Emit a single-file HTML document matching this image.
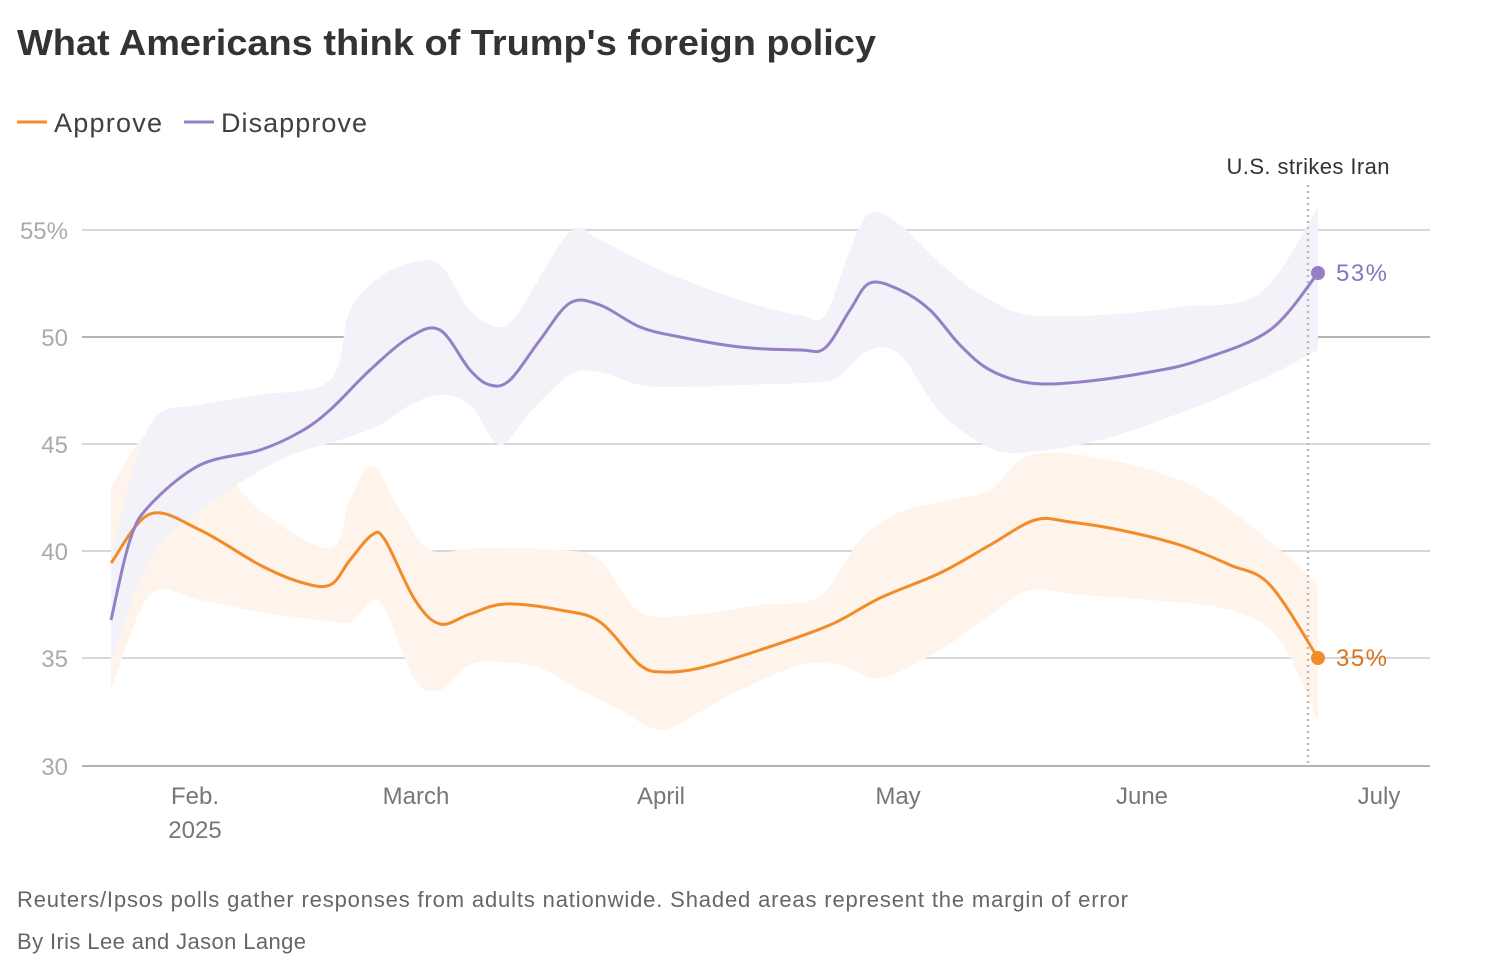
<!DOCTYPE html>
<html><head><meta charset="utf-8"><style>
body{margin:0;background:#fff;font-family:"Liberation Sans",sans-serif;}
svg{display:block}
</style></head><body>
<svg id="s" width="1486" height="970" xmlns="http://www.w3.org/2000/svg" font-family="Liberation Sans, sans-serif">
<text x="17" y="55" font-size="36" font-weight="bold" fill="#333" textLength="859" lengthAdjust="spacingAndGlyphs">What Americans think of Trump's foreign policy</text>
<line x1="17" y1="122" x2="47" y2="122" stroke="#f28c28" stroke-width="3"/>
<text x="54" y="132" font-size="27" fill="#404040" textLength="108">Approve</text>
<line x1="184" y1="122" x2="214" y2="122" stroke="#9580c5" stroke-width="3"/>
<text x="221" y="132" font-size="27" fill="#404040" textLength="146">Disapprove</text>
<g stroke="#ccc" stroke-width="1.5">
<line x1="82" y1="230" x2="1430" y2="230"/><line x1="82" y1="337" x2="1430" y2="337" stroke="#999"/>
<line x1="82" y1="444" x2="1430" y2="444"/><line x1="82" y1="551" x2="1430" y2="551"/>
<line x1="82" y1="658" x2="1430" y2="658"/><line x1="82" y1="766" x2="1430" y2="766" stroke="#999"/>
</g>
<g font-size="24" fill="#aaa" text-anchor="end">
<text x="68" y="239">55%</text><text x="68" y="346">50</text><text x="68" y="453">45</text>
<text x="68" y="560">40</text><text x="68" y="667">35</text><text x="68" y="775">30</text>
</g>
<g font-size="24" fill="#777" text-anchor="middle">
<text x="195" y="804">Feb.</text><text x="195" y="838">2025</text><text x="416" y="804">March</text>
<text x="661" y="804">April</text><text x="898" y="804">May</text><text x="1142" y="804">June</text><text x="1379" y="804">July</text>
</g>
<path id="ab" fill="#fef4eb"/>
<path id="db" fill="#f4f2f9"/>
<line x1="1308" y1="185" x2="1308" y2="766" stroke="#bbb" stroke-width="2.5" stroke-dasharray="2,4"/>
<text x="1308" y="174" font-size="22" fill="#333" text-anchor="middle" textLength="163">U.S. strikes Iran</text>
<path id="al" fill="none" stroke="#f28c28" stroke-width="3"/>
<path id="dl" fill="none" stroke="#9580c5" stroke-width="3"/>
<circle cx="1318" cy="658" r="7" fill="#f28c28"/>
<circle cx="1318" cy="273" r="7" fill="#9580c5"/>
<text x="1336" y="666" font-size="24" fill="#d9731a" textLength="51">35%</text>
<text x="1336" y="281" font-size="24" fill="#8a74bd" textLength="51">53%</text>
<text x="17" y="907" font-size="22" fill="#666" textLength="1111">Reuters/Ipsos polls gather responses from adults nationwide. Shaded areas represent the margin of error</text>
<text x="17" y="949" font-size="22" fill="#666" textLength="289">By Iris Lee and Jason Lange</text>
</svg>
<script>
function cr(p,start){let d=start?"M"+p[0]:"L"+p[0];for(let i=0;i<p.length-1;i++){const p0=p[Math.max(i-1,0)],p1=p[i],p2=p[i+1],p3=p[Math.min(i+2,p.length-1)];
const c1=[p1[0]+(p2[0]-p0[0])/6,p1[1]+(p2[1]-p0[1])/6],c2=[p2[0]-(p3[0]-p1[0])/6,p2[1]-(p3[1]-p1[1])/6];d+=" C"+c1+" "+c2+" "+p2;}return d;}
const al=[[111,563],[150,514],[200,530],[260,565],[300,582],[330,585],[350,560],[372,535],[385,540],[415,600],[440,624],[470,614],[505,604],[560,610],[600,622],[640,665],[665,672],[700,668],[760,650],[830,625],[880,598],[940,573],[990,545],[1035,520],[1070,522],[1120,530],[1180,545],[1230,565],[1270,585],[1318,658]];
const au=[[111,487],[150,432],[200,445],[260,510],[330,548],[350,500],[372,466],[400,510],[430,550],[480,548],[560,550],[600,560],[640,612],[700,614],[760,605],[820,596],[860,540],[900,512],[950,500],[990,490],[1030,455],[1100,458],[1180,480],[1230,510],[1280,550],[1318,585]];
const alo=[[1318,722],[1280,640],[1230,610],[1150,600],[1080,595],[1030,590],[990,615],[940,650],[880,678],[840,665],[800,665],[740,690],[700,712],[660,730],[620,710],[580,690],[540,668],[500,662],[470,665],[440,690],[415,680],[380,602],[350,622],[320,620],[260,612],[200,600],[150,595],[111,690]];
const dl=[[111,620],[130,540],[150,505],[200,465],[260,450],[300,432],[330,410],[370,370],[410,337],[440,330],[470,370],[490,385],[510,380],[540,340],[570,303],[600,305],[640,327],[680,337],[740,347],[800,350],[825,348],[850,310],[870,283],[900,290],[930,310],[960,345],[990,370],[1030,383],[1080,382],[1150,372],[1200,360],[1270,330],[1318,273]];
const du=[[111,555],[150,425],[200,405],[260,395],[330,380],[350,310],[380,277],[410,263],[440,265],[470,310],[500,327],[520,310],[570,232],[600,240],[660,270],[740,300],[800,315],[825,315],[850,250],[870,213],[900,225],[950,272],[990,300],[1030,315],[1100,315],[1180,307],[1260,293],[1318,207]];
const dlo=[[1318,350],[1260,380],[1180,413],[1100,440],[1030,452],[990,448],[940,412],[900,355],[870,350],[840,375],[820,382],[740,385],[680,387],[640,385],[600,372],[570,375],[530,412],[500,445],[470,405],[440,395],[410,405],[380,425],[340,440],[280,460],[200,510],[150,560],[111,662]];
document.getElementById("al").setAttribute("d",cr(al,1));
document.getElementById("dl").setAttribute("d",cr(dl,1));
document.getElementById("ab").setAttribute("d",cr(au,1)+" "+cr(alo,0)+"Z");
document.getElementById("db").setAttribute("d",cr(du,1)+" "+cr(dlo,0)+"Z");
</script>
</body></html>
